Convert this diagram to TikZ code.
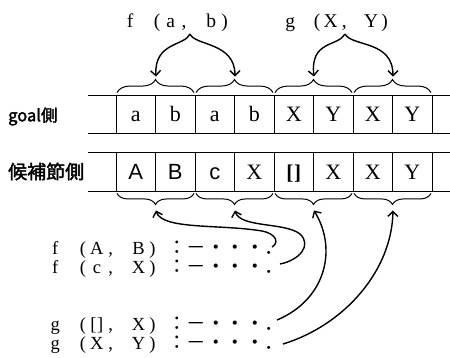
\documentclass[tikz,border=0pt]{standalone}
\usepackage{fontspec}
\usetikzlibrary{arrows.meta,decorations.pathreplacing}
\setmainfont{Liberation Serif}
\newfontfamily\sansfn{Liberation Sans}
\newfontfamily\jpfn{Noto Sans CJK JP}
\newfontfamily\jpbold{Noto Sans CJK JP}[FakeBold=2]
% fixed-pitch setting of a term: each token gets a cell of equal width
\newdimen\pitchwd
\newcommand\pitched[2][12.6pt]{\pitchwd=#1\relax\pitchloop#2\relax}
\def\pitchloop#1{\ifx#1\relax\else\makebox[\pitchwd]{#1}\expandafter\pitchloop\fi}
\begin{document}
\begin{tikzpicture}[x=1pt,y=-1pt,
  rule/.style={line width=0.9pt},
  cell/.style={draw, line width=0.9pt, minimum width=39.5pt, inner sep=0pt,
    text height=15pt, text depth=0pt, font=\fontsize{22}{22}\selectfont},
  toprow/.style={cell, minimum height=38pt},
  botrow/.style={cell, minimum height=39pt},
  fn/.style={inner sep=0pt, anchor=base west, font=\fontsize{19.5}{19.5}\selectfont},
  clause/.style={inner sep=0pt, anchor=base west, text height=13pt, text depth=3pt,
    font=\fontsize{18.5}{18.5}\selectfont},
  tail/.style={inner sep=0pt, anchor=base west, text height=13pt, text depth=2pt,
    font=\jpfn\fontsize{19.5}{19.5}\selectfont},
  lab/.style={inner sep=0pt, anchor=west},
  upbrace/.style={line width=1pt, decorate, decoration={brace, amplitude=13pt}},
  downbrace/.style={line width=1pt, decorate, decoration={brace, mirror, amplitude=11pt}},
  conn/.style={line width=1.4pt, -{Straight Barb[length=5pt,width=10pt]}}
]
\useasboundingbox (0,0) rectangle (450,357);

% the two rows of argument cells
\draw[rule] (88,95) -- (450,95);
\draw[rule] (88,133) -- (450,133);
\draw[rule] (88,152) -- (450,152);
\draw[rule] (88,191) -- (450,191);

\node[toprow] (t1) at (135.75,114) {a};
\node[toprow] (t2) at (175.25,114) {b};
\node[toprow] (t3) at (214.75,114) {a};
\node[toprow] (t4) at (254.25,114) {b};
\node[toprow] (t5) at (293.75,114) {X};
\node[toprow] (t6) at (333.25,114) {Y};
\node[toprow] (t7) at (372.75,114) {X};
\node[toprow] (t8) at (412.25,114) {Y};

\node[botrow] (b1) at (135.75,171.5) {\sansfn A};
\node[botrow] (b2) at (175.25,171.5) {\sansfn B};
\node[botrow] (b3) at (214.75,171.5) {\sansfn c};
\node[botrow] (b4) at (254.25,171.5) {X};
\node[botrow] (b5) at (293.75,171.5) {\fontsize{21}{21}\selectfont\bfseries [\kern1pt]};
\node[botrow] (b6) at (333.25,171.5) {X};
\node[botrow] (b7) at (372.75,171.5) {X};
\node[botrow] (b8) at (412.25,171.5) {Y};

% row labels
\node[lab, font=\jpbold\fontsize{16.5}{16.5}\selectfont] (goal) at (8,116.5) {goal側};
\node[lab, font=\jpbold\fontsize{19}{19}\selectfont] (cand) at (8,171.5) {候補節側};

% braces grouping the arguments of each literal
\draw[upbrace] ([xshift=1.5pt,yshift=2pt]t1.north west) -- ([xshift=-1.5pt,yshift=2pt]t2.north east);
\draw[upbrace] ([xshift=1.5pt,yshift=2pt]t3.north west) -- ([xshift=-1.5pt,yshift=2pt]t4.north east);
\draw[upbrace] ([xshift=1.5pt,yshift=2pt]t5.north west) -- ([xshift=-1.5pt,yshift=2pt]t6.north east);
\draw[upbrace] ([xshift=1.5pt,yshift=2pt]t7.north west) -- ([xshift=-1.5pt,yshift=2pt]t8.north east);
\draw[downbrace] ([xshift=1.5pt,yshift=-2pt]b1.south west) -- ([xshift=-1.5pt,yshift=-2pt]b2.south east);
\draw[downbrace] ([xshift=1.5pt,yshift=-2pt]b3.south west) -- ([xshift=-1.5pt,yshift=-2pt]b4.south east);
\draw[downbrace] ([xshift=1.5pt,yshift=-2pt]b5.south west) -- ([xshift=-1.5pt,yshift=-2pt]b6.south east);
\draw[downbrace] ([xshift=1.5pt,yshift=-2pt]b7.south west) -- ([xshift=-1.5pt,yshift=-2pt]b8.south east);

% brace tips
\coordinate (up1) at ([yshift=18pt]t1.north east);
\coordinate (up2) at ([yshift=18pt]t3.north east);
\coordinate (up3) at ([yshift=18pt]t5.north east);
\coordinate (up4) at ([yshift=18pt]t7.north east);
\coordinate (dn1) at ([yshift=-19pt]b1.south east);
\coordinate (dn2) at ([yshift=-19pt]b3.south east);
\coordinate (dn3) at ([yshift=-19pt]b5.south east);
\coordinate (dn4) at ([yshift=-19pt]b7.south east);

% goal literals
\node[fn] (fab) at (123.25,27) {\pitched[13.5pt]{f~(a,~b)}};
\node[fn] (gxy) at (283.25,27) {\pitched[13.5pt]{g~(X,~Y)}};
\coordinate (fa) at (190,34);
\coordinate (ga) at (345,34);
\draw[conn] (fa) .. controls (185,46) and (154,42) .. (up1);
\draw[conn] (fa) .. controls (195,46) and (235,42) .. (up2);
\draw[conn] (ga) .. controls (338,47) and (310,40) .. (up3);
\draw[conn] (ga) .. controls (352,47) and (393,40) .. (up4);

% candidate clauses
\node[clause] (c1) at (48.05,254.5) {\pitched[13.9pt]{f~(A,~B)}};
\node[clause] (c2) at (48.05,273) {\pitched[13.9pt]{f~(c,~X)}};
\node[clause] (c3) at (48.05,330.5) {\pitched[13.9pt]{g~({[\kern0.5pt]}{,}~X)}};
\node[clause] (c4) at (48.05,349) {\pitched[13.9pt]{g~(X,~Y)}};
\node[tail] (r1) at (167,254.5) {：－・・・．};
\node[tail] (r2) at (167,273) {：－・・・．};
\node[tail] (r3) at (167,330.5) {：－・・・．};
\node[tail] (r4) at (167,349) {：－・・・．};

\coordinate (e1) at (272,247);
\coordinate (e2) at (280,264);
\coordinate (e3) at (277,320);
\coordinate (e4) at (283,344);
\draw[conn] (e1) .. controls (279,243) and (277,234) .. (262,231)
  .. controls (220,224) and (162,230) .. (dn1);
\draw[conn] (e2) .. controls (300,260) and (312,245) .. (300,234)
  .. controls (285,222) and (240,228) .. (dn2);
\draw[conn] (e3) .. controls (325,300) and (338,250) .. (dn3);
\draw[conn] (e4) .. controls (345,325) and (392,270) .. (dn4);
\end{tikzpicture}
\end{document}
